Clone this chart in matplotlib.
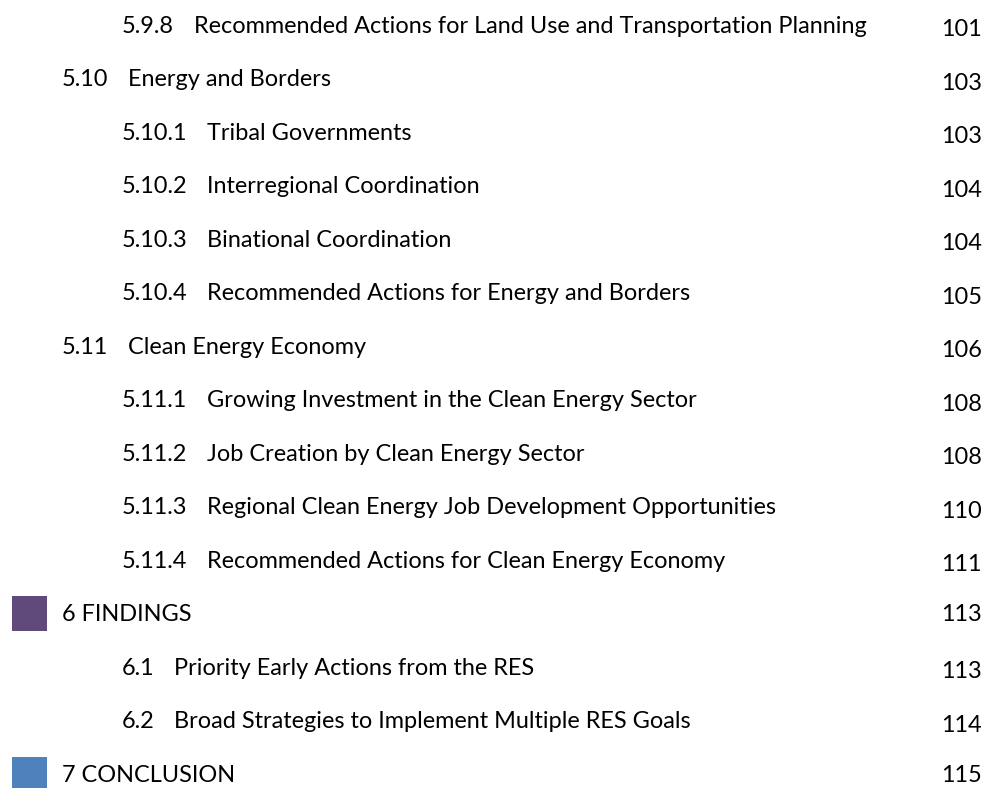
import matplotlib
matplotlib.use("Agg")
import matplotlib.pyplot as plt
from matplotlib.patches import Rectangle

# table of contents entries
numbers = ["5.9.8", "5.10", "5.10.1", "5.10.2", "5.10.3", "5.10.4", "5.11",
           "5.11.1", "5.11.2", "5.11.3", "5.11.4", "6", "6.1", "6.2", "7"]
titles = ["Recommended Actions for Land Use and Transportation Planning",
          "Energy and Borders",
          "Tribal Governments",
          "Interregional Coordination",
          "Binational Coordination",
          "Recommended Actions for Energy and Borders",
          "Clean Energy Economy",
          "Growing Investment in the Clean Energy Sector",
          "Job Creation by Clean Energy Sector",
          "Regional Clean Energy Job Development Opportunities",
          "Recommended Actions for Clean Energy Economy",
          "FINDINGS",
          "Priority Early Actions from the RES",
          "Broad Strategies to Implement Multiple RES Goals",
          "CONCLUSION"]
pages = [101, 103, 103, 104, 104, 105, 106, 108, 108, 110, 111, 113, 113, 114, 115]
levels = [3, 2, 3, 3, 3, 3, 2, 3, 3, 3, 3, 1, 3, 3, 1]
chapter_colors = {"6": "#604A7B", "7": "#4F81BD"}

# layout (pixels)
W, H = 988, 788
top, step = 32.7, 53.5
num_x = {1: 62, 2: 62, 3: 122}
title_x = [194, 127.5, 207, 207, 207, 207, 127.5, 207, 207, 207, 207, None, 174, 174, None]
fs = 16.9
font = "Lato"

fig = plt.figure(figsize=(W / 100, H / 100), dpi=100)
ax = fig.add_axes([0, 0, 1, 1])
ax.set_xlim(0, W)
ax.set_ylim(H, 0)
ax.axis("off")

for i, (num, title, page, lvl) in enumerate(zip(numbers, titles, pages, levels)):
    y = top + i * step
    if lvl == 1:
        ax.add_patch(Rectangle((12, y - 25), 35, 35, color=chapter_colors[num], lw=0))
        ax.text(num_x[1], y, num + " " + title, fontsize=fs, family=font, va="baseline", color="black")
        ax.text(982, y, str(page), fontsize=fs, family=font, va="baseline", ha="right", color="black")
    else:
        ax.text(num_x[lvl], y, num, fontsize=fs, family=font, va="baseline", color="black")
        ax.text(title_x[i], y, title, fontsize=fs, family=font, va="baseline", color="black")
        ax.text(982, y + 3.5, str(page), fontsize=fs, family=font, va="baseline", ha="right", color="black")

fig.savefig("out.png", dpi=100)
